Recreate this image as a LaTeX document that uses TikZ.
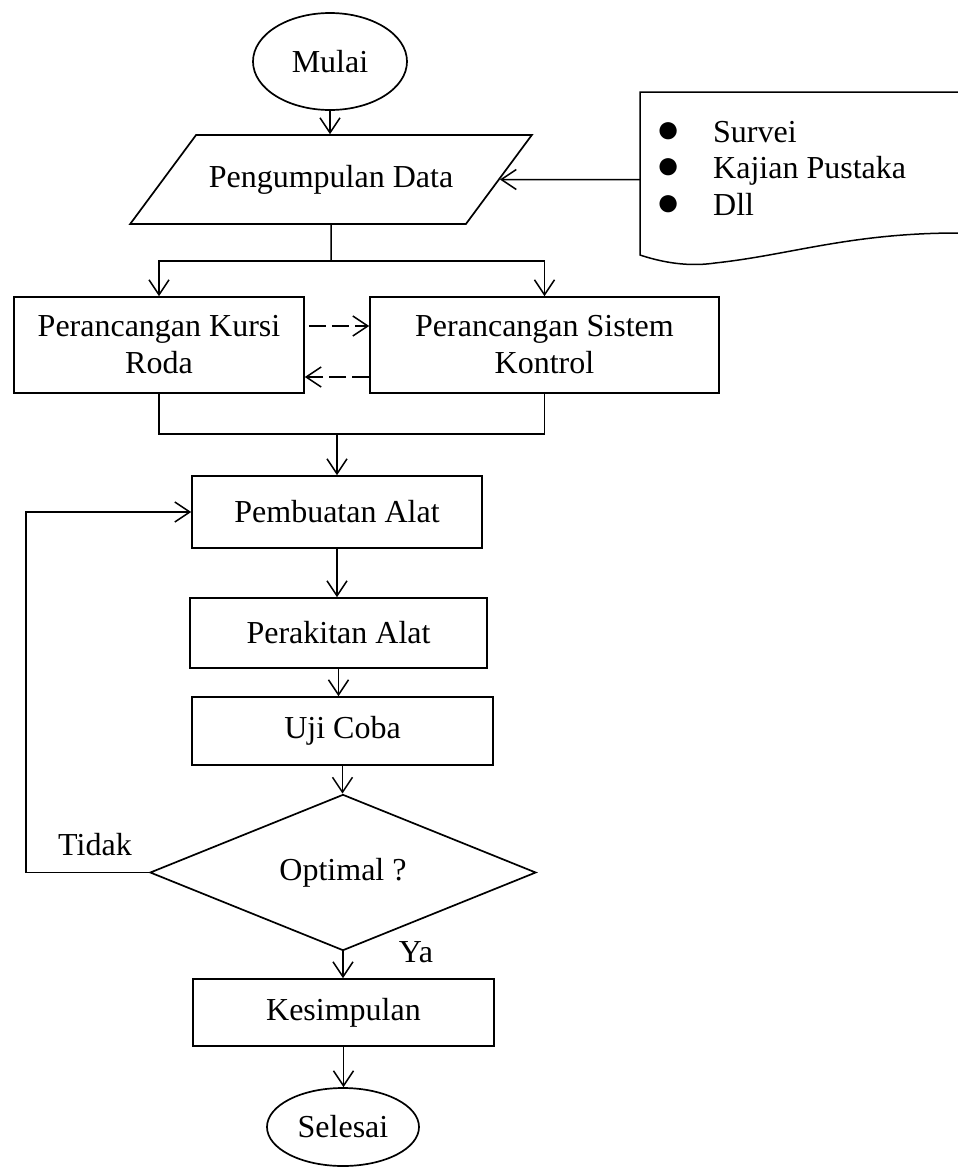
\documentclass[tikz,border=0pt]{standalone}
\usepackage{fontspec}
\setmainfont{Liberation Serif}
\usetikzlibrary{arrows.meta,shapes.geometric}
\tikzset{
	garis/.style={line width=1.5pt},
	panah/.style={garis, -{Straight Barb[length=15pt,width=20pt,line width=1.5pt]}},
	putus/.style={panah, dash pattern=on 17pt off 6pt},
	kotak/.style={draw, line width=1.7pt, inner sep=0pt, align=center, font=\fontsize{32}{37}\selectfont},
	terminal/.style={kotak, ellipse},
	proses/.style={kotak, rectangle},
	masukan/.style={kotak, trapezium, trapezium left angle=26, trapezium right angle=154, trapezium stretches=true},
	keputusan/.style={kotak, diamond},
	teks/.style={inner sep=0pt, font=\fontsize{32}{37}\selectfont, anchor=base},
	butir/.style={teks, anchor=base west}
}

\begin{document}
\begin{tikzpicture}[x=1pt,y=-1pt]
			%%%%% START %%%%%
			\useasboundingbox (0,0) rectangle (958,1168);
			
			\node[terminal, minimum width=154pt, minimum height=97pt] (mulai) at (330,61.5) {Mulai};
			\node[masukan, minimum width=402pt, minimum height=89pt] (data) at (331,179.5) {Pengumpulan Data};
			
			% sumber data
			\draw[garis] (958,92) -- (640,92) -- (640,255) .. controls (670,265) and (695,266) .. (715,263) .. controls (790,255) and (850,233) .. (958,233);
			\coordinate (dokkiri) at (640,179.5);
			\node[butir] (survei) at (656,142) {\makebox[57pt][l]{\fontsize{40}{37}\selectfont ●}Survei};
			\node[butir] (kajian) at (656,178.5) {\makebox[57pt][l]{\fontsize{40}{37}\selectfont ●}Kajian Pustaka};
			\node[butir] (dll) at (656,215) {\makebox[57pt][l]{\fontsize{40}{37}\selectfont ●}Dll};
			
			\node[proses, minimum width=290pt, minimum height=96pt] (kursi) at (159,345) {Perancangan Kursi\\Roda};
			\node[proses, minimum width=349pt, minimum height=96pt] (kontrol) at (544.5,345) {Perancangan Sistem\\Kontrol};
			
			\node[proses, minimum width=290pt, minimum height=72pt] (buat) at (337,512) {Pembuatan Alat};
			\node[proses, minimum width=297pt, minimum height=70pt] (rakit) at (338.5,633) {Perakitan Alat};
			\node[proses, minimum width=301pt, minimum height=68pt] (uji) at (342.5,731) {Uji Coba};
			\node[keputusan, minimum width=386pt, minimum height=149pt] (optimal) at (343,872.5) {Optimal ?};
			\node[proses, minimum width=301pt, minimum height=67pt] (simpul) at (343.5,1012.5) {Kesimpulan};
			\node[terminal, minimum width=152pt, minimum height=78pt] (selesai) at (343,1127) {Selesai};
			
			\node[teks] (tidak) at (95,855) {Tidak};
			\node[teks] (ya) at (416,962) {Ya};
			
			% panah
			\draw[panah] (mulai.south) -- (mulai.south |- data.north);
			\draw[panah] (dokkiri) -- (data.east);
			
			\coordinate (cabang) at (331,261);
			\draw[garis] (data.south) -- (cabang);
			\draw[panah] (cabang) -| (kursi.north);
			\draw[panah] (cabang) -| (kontrol.north);
			
			\draw[putus, shorten <=4pt] ([yshift=19pt]kursi.east) -- ([yshift=19pt]kontrol.west);
			\draw[putus] ([yshift=-32pt]kontrol.west) -- ([yshift=-32pt]kursi.east);
			
			\coordinate (gabung) at (337,434);
			\draw[garis] (kursi.south) |- (gabung) -| (kontrol.south);
			\draw[panah] (gabung) -- (buat.north);
			
			\draw[panah] (buat.south) -- (buat.south |- rakit.north);
			\draw[panah] (rakit.south) -- (rakit.south |- uji.north);
			\draw[panah] (uji.south) -- (uji.south |- optimal.north);
			\draw[panah] (optimal.south) -- (optimal.south |- simpul.north);
			\draw[panah] (simpul.south) -- (simpul.south |- selesai.north);
			
			\coordinate (balik) at (26,512);
			\draw[panah] (optimal.west) -| (balik) -- (buat.west);
			
			%%%%% END %%%%%
\end{tikzpicture}
\end{document}
